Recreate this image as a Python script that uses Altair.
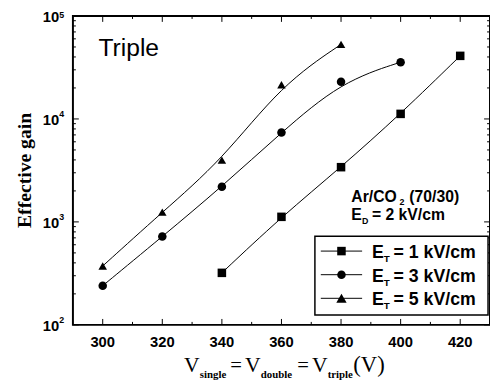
import altair as alt
import pandas as pd

# ---- data ----
voltage_1 = [340, 360, 380, 400, 420]
gain_1 = [320, 1120, 3400, 11200, 41000]
voltage_3 = [300, 320, 340, 360, 380, 400]
gain_3 = [240, 720, 2200, 7400, 23000, 35600]
voltage_5 = [300, 320, 340, 360, 380]
gain_5 = [373, 1245, 3980, 21500, 53000]

series_names = ["ET1", "ET3", "ET5"]
series_shapes = ["square", "circle", "triangle-up"]
series_sizes = [75, 75, 110]

x_ticks = [300, 320, 340, 360, 380, 400, 420]
x_minor = [310, 330, 350, 370, 390, 410]
y_ticks = [100, 1000, 10000, 100000]
y_exps = ["2", "3", "4", "5"]
y_minor = [200, 300, 400, 500, 600, 700, 800, 900,
           2000, 3000, 4000, 5000, 6000, 7000, 8000, 9000,
           20000, 30000, 40000, 50000, 60000, 70000, 80000, 90000]

W, H = 424, 314
SANS = "Liberation Sans"
SERIF = "Liberation Serif"

df = pd.concat([
    pd.DataFrame({"v": voltage_1, "g": gain_1, "s": series_names[0]}),
    pd.DataFrame({"v": voltage_3, "g": gain_3, "s": series_names[1]}),
    pd.DataFrame({"v": voltage_5, "g": gain_5, "s": series_names[2]}),
])

xs = alt.Scale(domain=[290, 430], nice=False, zero=False)
ys = alt.Scale(type="log", domain=[100, 100000], nice=False)
X = alt.X("v:Q", scale=xs, axis=None)
Y = alt.Y("g:Q", scale=ys, axis=None)

lines = alt.Chart(df).mark_line(interpolate="basis", color="black", strokeWidth=1).encode(
    x=X, y=Y, detail="s:N")
points = alt.Chart(df).mark_point(filled=True, color="black", opacity=1).encode(
    x=X, y=Y,
    shape=alt.Shape("s:N", scale=alt.Scale(domain=series_names, range=series_shapes), legend=None),
    size=alt.Size("s:N", scale=alt.Scale(domain=series_names, range=series_sizes), legend=None))

# ---- inward ticks ----
xt = pd.DataFrame({"v": x_ticks})
xm = pd.DataFrame({"v": x_minor})
yt = pd.DataFrame({"g": y_ticks, "e": y_exps})
ym = pd.DataFrame({"g": y_minor})

def xrule(data, y0, y1):
    return alt.Chart(data).mark_rule(color="black", strokeWidth=1).encode(
        x=X, y=alt.value(y0), y2=alt.value(y1))

def yrule(data, x0, x1):
    return alt.Chart(data).mark_rule(color="black", strokeWidth=1).encode(
        y=Y, x=alt.value(x0), x2=alt.value(x1))

ticks = [
    xrule(xt, H, H - 6), xrule(xm, H, H - 3),
    xrule(xt, 0, 6), xrule(xm, 0, 3),
    yrule(yt, 0, 6), yrule(ym, 0, 3),
    yrule(yt, W, W - 6), yrule(ym, W, W - 3),
]

xlabels = alt.Chart(xt).mark_text(font=SANS, fontWeight="bold", fontSize=15, baseline="top").encode(
    x=X, y=alt.value(H + 10), text=alt.Text("v:Q", format="d"))
ylab10 = alt.Chart(yt).mark_text(font=SANS, fontWeight="bold", fontSize=15, align="right",
                                 baseline="middle", dy=1).encode(
    y=Y, x=alt.value(-14), text=alt.value("10"))
ylabexp = alt.Chart(yt.iloc[:3]).mark_text(font=SANS, fontWeight="bold", fontSize=9, align="left",
                                           baseline="middle", dy=-5).encode(
    y=Y, x=alt.value(-14), text="e:N")
ylabexp_top = alt.Chart(yt.iloc[3:]).mark_text(font=SANS, fontWeight="bold", fontSize=9, align="left",
                                               baseline="middle", dy=-1).encode(
    y=Y, x=alt.value(-14), text="e:N")

one = pd.DataFrame({"a": [0]})

def txt(s, x, y, size, font=SANS, weight="bold", align="left", baseline="alphabetic", angle=0):
    return alt.Chart(one).mark_text(font=font, fontWeight=weight, fontSize=size, align=align,
                                    baseline=baseline, angle=angle).encode(
        x=alt.value(x), y=alt.value(y), text=alt.value(s))

ytitle = txt("Effective gain", -49, H / 2, 20, font=SERIF, align="center", baseline="middle", angle=270)

xtitle = [
    txt("V", 113, 362, 22, font=SERIF, weight="normal"),
    txt("single", 129, 368, 11, font=SERIF),
    txt("=", 160, 362, 21, font=SERIF, weight="normal"),
    txt("V", 175, 362, 22, font=SERIF, weight="normal"),
    txt("double", 191, 368, 11, font=SERIF),
    txt("=", 228, 362, 21, font=SERIF, weight="normal"),
    txt("V", 243, 362, 22, font=SERIF, weight="normal"),
    txt("triple", 259, 368, 11, font=SERIF),
    txt("(V)", 285, 362, 23, font=SERIF, weight="normal"),
]

annots = [
    txt("Triple", 26, 41, 25, weight="normal"),
    txt("Ar/CO", 283, 189, 16),
    txt("2", 332, 192, 9),
    txt("(70/30)", 342, 189, 16),
    txt("E", 283, 207, 16),
    txt("D", 294, 211, 9),
    txt("= 2 kV/cm", 304, 207, 16),
]

# ---- manual legend ----
legend_box = alt.Chart(one).mark_rect(fill="white", stroke="black", strokeWidth=1.5).encode(
    x=alt.value(246), x2=alt.value(422), y=alt.value(224), y2=alt.value(304))
legend = [legend_box]
legend_labels = ["= 1 kV/cm", "= 3 kV/cm", "= 5 kV/cm"]
rows_y = [239, 263, 287]
for shp, sz, lab, ry in zip(series_shapes, series_sizes, legend_labels, rows_y):
    legend.append(alt.Chart(one).mark_rule(color="black", strokeWidth=1).encode(
        x=alt.value(252), x2=alt.value(294), y=alt.value(ry)))
    legend.append(alt.Chart(one).mark_point(filled=True, color="black", opacity=1, size=sz).encode(
        x=alt.value(273), y=alt.value(ry), shape=alt.value(shp)))
    legend.append(txt("E", 304, ry + 7, 18))
    legend.append(txt("T", 316, ry + 11, 10))
    legend.append(txt(lab, 326, ry + 7, 18))

chart = alt.layer(
    lines, points, *ticks, xlabels, ylab10, ylabexp, ylabexp_top, ytitle, *xtitle, *annots, *legend
).properties(
    width=W, height=H,
    autosize=alt.AutoSizeParams(type="none"),
    padding={"left": 66, "top": 5, "right": 0, "bottom": 57},
).configure_view(stroke="black", strokeWidth=2)

chart.save("out.html", embed_options={"renderer": "svg", "actions": False})
